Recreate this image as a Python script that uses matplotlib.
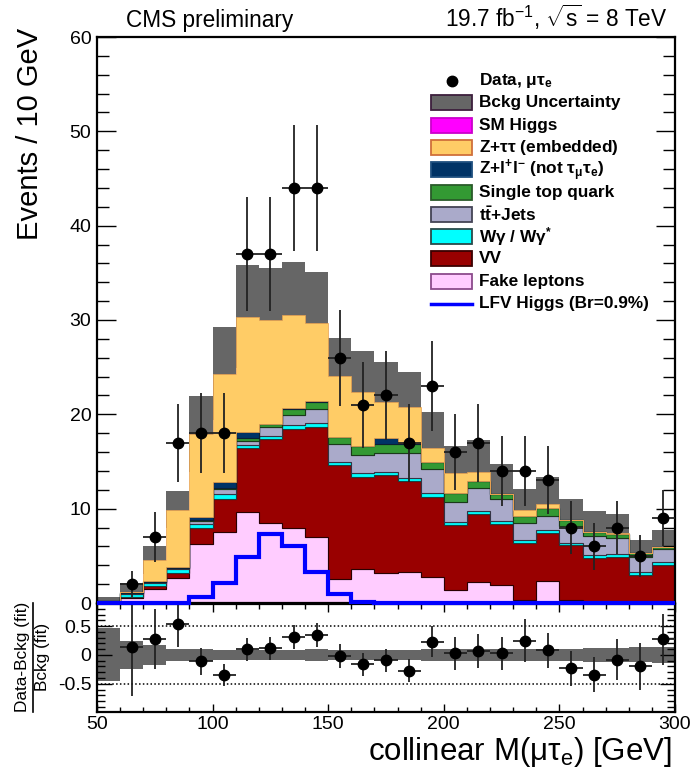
import numpy as np
import matplotlib
matplotlib.use("Agg")
import matplotlib.pyplot as plt
from matplotlib.patches import Rectangle
from matplotlib.lines import Line2D
from matplotlib.ticker import MultipleLocator

plt.rcParams['font.family'] = ['Liberation Sans', 'DejaVu Sans']
plt.rcParams['mathtext.fontset'] = 'custom'
plt.rcParams['mathtext.rm'] = 'Liberation Sans'
plt.rcParams['mathtext.it'] = 'Liberation Sans:italic'
plt.rcParams['mathtext.bf'] = 'Liberation Sans:bold'
plt.rcParams['mathtext.sf'] = 'Liberation Sans'
plt.rcParams['mathtext.default'] = 'regular'

# ---------------- data ----------------
bin_edges = np.arange(50, 301, 10)
bin_centers = [55, 65, 75, 85, 95, 105, 115, 125, 135, 145, 155, 165, 175,
               185, 195, 205, 215, 225, 235, 245, 255, 265, 275, 285, 295]

fake = [0.05, 0.55, 1.45, 2.6, 6.3, 7.5, 9.6, 8.45, 8.0, 6.95, 2.5, 3.65, 3.15,
        3.3, 2.8, 1.4, 2.2, 1.9, 0.3, 2.35, 0.3, 0.1, 0.1, 0.1, 0.1]
vv = [0.05, 0.1, 0.35, 0.6, 1.6, 3.55, 6.85, 8.95, 10.4, 11.75, 12.1, 9.75, 10.4,
      9.65, 8.4, 6.85, 7.25, 6.5, 6.1, 5.05, 5.8, 4.65, 4.8, 2.85, 3.9]
wgamma = [0.05, 0.3, 0.35, 0.45, 0.45, 0.5, 0.3, 0.35, 0.5, 0.4, 0.3, 0.35, 0.35,
          0.35, 0.5, 0.35, 0.35, 0.3, 0.3, 0.3, 0.3, 0.35, 0.3, 0.35, 0.35]
ttbar = [0.05, 0.1, 0.05, 0.05, 0.35, 0.55, 0.45, 0.9, 1.05, 1.45, 2.0, 1.95, 2.0,
         2.6, 2.5, 2.15, 2.4, 2.3, 1.8, 1.55, 1.75, 1.95, 1.65, 1.6, 1.4]
single_top = [0.0, 0.05, 0.05, 0.05, 0.1, 0.1, 0.25, 0.3, 0.65, 0.8, 0.7, 0.9, 0.95,
              1.0, 0.7, 0.95, 0.7, 0.6, 0.7, 0.8, 0.65, 0.5, 0.5, 0.35, 0.2]
zll = [0.0, 0.1, 0.05, 0.1, 0.35, 0.6, 0.7, 0.05, 0.05, 0.05, 0.05, 0.05, 0.6,
       0.05, 0.0, 0.0, 0.0, 0.0, 0.0, 0.0, 0.0, 0.0, 0.0, 0.0, 0.0]
ztautau = [0.0, 0.0, 2.25, 6.05, 8.75, 11.5, 12.2, 11.0, 9.85, 8.25, 6.45, 5.75, 3.85,
           3.85, 1.5, 2.1, 1.0, 0.0, 0.7, 0.4, 0.0, 0.0, 0.1, 0.0, 0.0]
sm_higgs = [0.0, 0.0, 0.0, 0.0, 0.0, 0.01, 0.02, 0.03, 0.03, 0.02, 0.01, 0.0, 0.0,
            0.0, 0.0, 0.0, 0.0, 0.0, 0.0, 0.0, 0.0, 0.0, 0.0, 0.0, 0.0]
bkg_unc = [0.4, 0.9, 1.5, 2.0, 4.0, 4.9, 5.5, 5.5, 5.6, 5.45, 4.0, 4.3, 4.2,
           3.7, 3.9, 2.8, 3.4, 3.1, 2.15, 2.9, 2.25, 2.15, 1.95, 1.4, 1.8]
lfv_higgs = [0.0, 0.0, 0.0, 0.0, 0.6, 2.1, 4.9, 7.3, 6.05, 3.3, 1.0, 0.1, 0.0,
             0.0, 0.0, 0.0, 0.0, 0.0, 0.0, 0.0, 0.0, 0.0, 0.0, 0.0, 0.0]
data = [0, 2, 7, 17, 18, 18, 37, 37, 44, 44, 26, 21, 22,
        17, 23, 16, 17, 14, 14, 13, 8, 6, 8, 5, 9]

ratio = [np.nan, 0.14, 0.27, 0.53, -0.11, -0.35, 0.10, 0.12, 0.31, 0.35, -0.02, -0.16, -0.09,
         -0.27, 0.23, 0.03, 0.07, 0.03, 0.25, 0.08, -0.23, -0.34, -0.08, -0.20, 0.27]
ratio_err = [np.nan, 0.86, 0.52, 0.40, 0.23, 0.19, 0.20, 0.20, 0.21, 0.21, 0.21, 0.20, 0.20,
             0.20, 0.27, 0.29, 0.29, 0.29, 0.37, 0.31, 0.30, 0.30, 0.36, 0.40, 0.45]
ratio_band = [0.46, 0.24, 0.17, 0.10, 0.10, 0.09, 0.09, 0.09, 0.09, 0.10, 0.09, 0.09, 0.09,
              0.09, 0.10, 0.10, 0.11, 0.11, 0.11, 0.10, 0.11, 0.12, 0.12, 0.13, 0.14]

# stack definition: (values, face, edge, linewidth)
stack = [
    (fake, '#FFCCFF', '#7a3f7a', 0.8),
    (vv, '#990000', '#2a0000', 0.8),
    (wgamma, '#00FFFF', '#1f3f3f', 0.8),
    (ttbar, '#AAAACA', '#333344', 0.8),
    (single_top, '#339933', '#1a3a1a', 0.8),
    (zll, '#003366', '#0b2035', 0.8),
    (ztautau, '#FFCC66', '#e8a050', 0.5),
    (sm_higgs, '#FF00FF', 'none', 0.0),
]
unc_color = '#666666'
lfv_color = '#0000FF'

# ---------------- figure ----------------
W, H = 693, 770
fig = plt.figure(figsize=(W / 100, H / 100), dpi=100)

def px_axes(left, top, right, bottom):
    return [left / W, (H - bottom) / H, (right - left) / W, (bottom - top) / H]

rax = fig.add_axes(px_axes(97, 604, 675, 712))
ax = fig.add_axes(px_axes(97, 37, 675, 603))

# main panel
edges = bin_edges
total = np.zeros(len(bin_centers))
for vals, _, _, _ in stack:
    total = total + np.array(vals)
unc = np.array(bkg_unc)
ax.stairs(total + unc, edges, baseline=np.clip(total - unc, 0, None), fill=True,
          color=unc_color, lw=0, zorder=1)

base = np.zeros(len(bin_centers))
for vals, face, edge, lw in stack:
    v = np.array(vals)
    ax.stairs(base + v, edges, baseline=base.copy(), fill=True, facecolor=face,
              edgecolor=edge, lw=lw, zorder=2)
    base = base + v

ax.stairs(lfv_higgs, edges, baseline=0, color=lfv_color, lw=3, zorder=4, clip_on=False)

d = np.array(data, dtype=float)
c = np.array(bin_centers, dtype=float)
m = d > 0
ax.errorbar(c[m], d[m], yerr=np.sqrt(d[m]), xerr=5, fmt='o', color='black',
            ecolor='#222222', ms=7.5, elinewidth=1.3, capsize=0, zorder=5)

ax.set_xlim(50, 300)
ax.set_ylim(0, 60)
ax.yaxis.set_major_locator(MultipleLocator(10))
ax.yaxis.set_minor_locator(MultipleLocator(2))
ax.xaxis.set_major_locator(MultipleLocator(50))
ax.xaxis.set_minor_locator(MultipleLocator(10))
ax.tick_params(axis='y', which='major', direction='in', length=14, width=1,
               left=True, right=True, labelsize=14, pad=4)
ax.tick_params(axis='y', which='minor', direction='in', length=8.5, width=1,
               left=True, right=True)
ax.tick_params(axis='x', which='both', direction='in', bottom=False, top=False,
               labelbottom=False)
for s in ax.spines.values():
    s.set_linewidth(1.6)
ax.set_facecolor('none')

# legend (manual, ROOT-like)
def ax_frac(px, py):
    return (px - 97) / 578, (603 - py) / 566

rows = [('data', None, None, r'Data, $\mu\tau_{e}$'),
        ('box', unc_color, '#3d1f3d', 'Bckg Uncertainty'),
        ('box', '#FF00FF', '#cc00cc', 'SM Higgs'),
        ('box', '#FFCC66', '#d0703a', r'Z+$\tau\tau$ (embedded)'),
        ('box', '#003366', '#1f4f7f', r'Z+l$^{+}$l$^{-}$ (not $\tau_{\mu}\tau_{e}$)'),
        ('box', '#339933', '#2a5a2a', 'Single top quark'),
        ('box', '#AAAACA', '#444455', r't$\bar{t}$+Jets'),
        ('box', '#00FFFF', '#2a4a4a', r'W$\gamma$ / W$\gamma^{*}$'),
        ('box', '#990000', '#3a0000', 'VV'),
        ('box', '#FFCCFF', '#8b4b8b', 'Fake leptons'),
        ('line', lfv_color, None, 'LFV Higgs (Br=0.9%)')]
for i, (kind, fc, ec, lab) in enumerate(rows):
    py = 80.5 + 22.3 * i
    x0, yc = ax_frac(431, py)
    x1, _ = ax_frac(472, py)
    hb = 15 / 566
    if kind == 'box':
        ax.add_patch(Rectangle((x0, yc - hb / 2), x1 - x0, hb, transform=ax.transAxes,
                               facecolor=fc, edgecolor=ec, lw=1.3, zorder=6))
    elif kind == 'line':
        ax.add_line(Line2D([x0, x1], [yc, yc], transform=ax.transAxes, color=fc,
                           lw=2.5, zorder=6))
    else:
        ax.add_line(Line2D([(x0 + x1) / 2], [yc], transform=ax.transAxes, marker='o',
                           color='black', ms=7.5, lw=0, zorder=6))
    xt, _ = ax_frac(479, py)
    ax.text(xt, yc, lab, transform=ax.transAxes, ha='left', va='center',
            fontsize=12.4, fontweight='bold', zorder=7)

# ratio panel
rb = np.array(ratio_band)
rax.stairs(rb, edges, baseline=-rb, fill=True, color=unc_color, lw=0, zorder=1)
rax.axhline(0.5, ls=(0, (1, 1.5)), color='black', lw=1.1, zorder=2)
rax.axhline(-0.5, ls=(0, (1, 1.5)), color='black', lw=1.1, zorder=2)
r = np.array(ratio, dtype=float)
re = np.array(ratio_err, dtype=float)
mr = ~np.isnan(r)
rax.errorbar(c[mr], r[mr], yerr=re[mr], xerr=5, fmt='o', color='black',
             ecolor='#222222', ms=7.5, elinewidth=1.3, capsize=0, zorder=5)
rax.set_xlim(50, 300)
rax.set_ylim(-0.99, 0.885)
rax.yaxis.set_major_locator(MultipleLocator(0.5))
rax.yaxis.set_minor_locator(MultipleLocator(0.1))
rax.xaxis.set_major_locator(MultipleLocator(50))
rax.xaxis.set_minor_locator(MultipleLocator(10))
rax.set_yticks([-0.5, 0, 0.5])
rax.set_yticklabels(['-0.5', '0', '0.5'])
rax.tick_params(axis='y', which='major', direction='in', length=11, width=1,
                left=True, right=True, labelsize=14, pad=4)
rax.tick_params(axis='y', which='minor', direction='in', length=6, width=1,
                left=True, right=True)
rax.tick_params(axis='x', which='major', direction='in', length=6, width=1,
                bottom=True, top=True, labelsize=14, pad=3)
rax.tick_params(axis='x', which='minor', direction='in', length=3.5, width=1,
                bottom=True, top=True)
for s in rax.spines.values():
    s.set_linewidth(1.6)

# texts
fig.text(126 / W, 1 - 27 / H, 'CMS preliminary', fontsize=16.3, ha='left', va='baseline')
fig.text(668 / W, 1 - 27 / H, r'19.7 fb$^{-1}$, $\sqrt{s}$ = 8 TeV', fontsize=16.3,
         ha='right', va='baseline')
fig.text(30 / W, 1 - 28 / H, 'Events / 10 GeV', fontsize=21, rotation=90,
         ha='center', va='top')
fig.text(672 / W, 1 - 760 / H, r'collinear M($\mu\tau_{e}$) [GeV]', fontsize=22.5,
         ha='right', va='baseline')
yc_r = 1 - 657 / H
fig.text(23 / W, yc_r, 'Data-Bckg (fit)', fontsize=12.4, rotation=90, ha='center', va='center')
fig.text(42 / W, yc_r, 'Bckg (fit)', fontsize=12.4, rotation=90, ha='center', va='center')
fig.add_artist(Line2D([32.5 / W, 32.5 / W], [1 - 603 / H, 1 - 712 / H],
                      transform=fig.transFigure, color='black', lw=1.2))

fig.savefig('out.png', dpi=100)
